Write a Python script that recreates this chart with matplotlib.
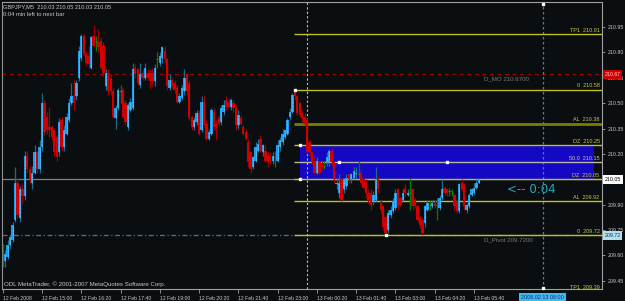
import matplotlib
matplotlib.use('Agg')
import matplotlib.pyplot as plt
from matplotlib.patches import Rectangle
from matplotlib.transforms import blended_transform_factory

# ---------------- data ----------------
header_text = "GBPJPY,M5  210.03 210.05 210.03 210.05"
timer_text = "0:04 min left to next bar"
copyright_text = "ODL MetaTrader, \u00a9 2001-2007 MetaQuotes Software Corp."

opens = [209.60, 209.57, 209.59, 209.66, 209.69, 209.81, 210.03, 209.82, 209.99, 209.95,
         210.19, 210.11, 210.03, 210.09, 210.21, 210.11, 210.24, 210.50, 210.42, 210.36,
         210.36, 210.34, 210.30, 210.21, 210.40, 210.24, 210.32, 210.40, 210.50, 210.55,
         210.54, 210.65, 210.77, 210.90, 210.79, 210.78, 210.71, 210.90, 210.87, 210.86,
         210.87, 210.84, 210.60, 210.68, 210.65, 210.57, 210.41, 210.47, 210.57, 210.58,
         210.50, 210.36, 210.46, 210.47, 210.71, 210.70, 210.61, 210.68, 210.65, 210.68,
         210.68, 210.68, 210.63, 210.76, 210.74, 210.77, 210.81, 210.76, 210.59, 210.64,
         210.62, 210.59, 210.51, 210.53, 210.57, 210.67, 210.62, 210.42, 210.36, 210.39,
         210.44, 210.34, 210.51, 210.38, 210.29, 210.32, 210.45, 210.38, 210.41, 210.39,
         210.45, 210.52, 210.51, 210.48, 210.50, 210.47, 210.37, 210.41, 210.36, 210.33,
         210.27, 210.21, 210.12, 210.16, 210.22, 210.29, 210.21, 210.22, 210.19, 210.18,
         210.16, 210.18, 210.16, 210.24, 210.27, 210.30, 210.32, 210.42, 210.45, 210.57,
         210.54, 210.50, 210.44, 210.42, 210.40, 210.27, 210.21, 210.16, 210.09, 210.15,
         210.13, 210.13, 210.15, 210.15, 210.22, 210.15, 210.02, 209.97, 210.05, 209.99,
         210.01, 210.08, 210.05, 210.06, 210.08, 210.08, 210.09, 210.05, 210.03, 209.97,
         209.97, 209.92, 209.93, 210.05, 209.91, 209.89, 209.83, 209.75, 209.84, 209.86,
         209.88, 209.99, 209.94, 209.93, 210.00, 209.96, 209.97, 209.99, 209.93, 209.89,
         209.83, 209.81, 209.79, 209.87, 209.90, 209.89, 209.91, 209.90, 209.88, 209.94,
         210.00, 209.99, 209.98, 209.97, 209.96, 209.92, 209.86, 210.03, 210.02, 209.87,
         209.89, 209.96, 209.97, 210.00, 210.03]
closes = [209.60, 209.61, 209.66, 209.71, 209.78, 210.03, 209.84, 209.99, 209.95, 210.19,
          210.11, 210.05, 210.09, 210.21, 210.11, 210.24, 210.50, 210.33, 210.34, 210.34,
          210.30, 210.21, 210.18, 210.39, 210.24, 210.34, 210.42, 210.50, 210.54, 210.50,
          210.62, 210.81, 210.90, 210.79, 210.74, 210.73, 210.89, 210.84, 210.87, 210.83,
          210.71, 210.68, 210.68, 210.57, 210.57, 210.42, 210.47, 210.58, 210.57, 210.42,
          210.39, 210.49, 210.51, 210.70, 210.67, 210.62, 210.67, 210.65, 210.71, 210.65,
          210.63, 210.63, 210.71, 210.76, 210.78, 210.83, 210.76, 210.60, 210.64, 210.60,
          210.58, 210.51, 210.54, 210.59, 210.65, 210.57, 210.41, 210.36, 210.40, 210.44,
          210.32, 210.51, 210.37, 210.29, 210.33, 210.46, 210.36, 210.36, 210.38, 210.47,
          210.49, 210.48, 210.48, 210.52, 210.47, 210.37, 210.43, 210.38, 210.32, 210.29,
          210.15, 210.11, 210.18, 210.24, 210.26, 210.22, 210.25, 210.16, 210.15, 210.16,
          210.19, 210.18, 210.25, 210.28, 210.32, 210.34, 210.40, 210.45, 210.55, 210.54,
          210.44, 210.43, 210.41, 210.38, 210.21, 210.21, 210.15, 210.09, 210.16, 210.09,
          210.12, 210.13, 210.18, 210.22, 210.15, 210.05, 210.03, 210.03, 209.93, 210.05,
          210.06, 210.05, 210.08, 210.10, 210.09, 210.08, 210.03, 210.00, 209.97, 209.93,
          209.90, 209.96, 210.05, 209.99, 209.87, 209.77, 209.73, 209.85, 209.87, 209.92,
          209.97, 209.89, 209.90, 209.97, 209.97, 209.97, 209.97, 209.89, 209.89, 209.81,
          209.78, 209.73, 209.89, 209.91, 209.90, 209.91, 209.89, 209.90, 209.94, 209.99,
          209.97, 209.97, 209.98, 209.97, 209.89, 209.86, 210.02, 209.99, 209.89, 209.90,
          209.96, 209.99, 210.00, 210.03, 210.05]
highs = [209.67, 209.63, 209.69, 209.72, 209.80, 210.12, 210.06, 210.01, 210.02, 210.22,
         210.22, 210.13, 210.13, 210.25, 210.22, 210.28, 210.56, 210.52, 210.45, 210.48,
         210.37, 210.35, 210.31, 210.41, 210.42, 210.37, 210.44, 210.53, 210.62, 210.64,
         210.64, 210.84, 210.91, 210.91, 210.81, 210.84, 210.90, 210.96, 210.90, 210.94,
         210.89, 210.86, 210.70, 210.70, 210.67, 210.59, 210.49, 210.59, 210.61, 210.59,
         210.52, 210.50, 210.53, 210.74, 210.73, 210.71, 210.74, 210.70, 210.74, 210.70,
         210.70, 210.71, 210.73, 210.80, 210.80, 210.84, 210.84, 210.77, 210.67, 210.65,
         210.64, 210.61, 210.56, 210.61, 210.70, 210.68, 210.64, 210.43, 210.42, 210.46,
         210.46, 210.54, 210.55, 210.40, 210.35, 210.47, 210.47, 210.40, 210.43, 210.49,
         210.52, 210.54, 210.53, 210.53, 210.52, 210.49, 210.46, 210.43, 210.37, 210.35,
         210.29, 210.22, 210.19, 210.27, 210.29, 210.31, 210.26, 210.25, 210.21, 210.21,
         210.21, 210.22, 210.28, 210.30, 210.35, 210.35, 210.41, 210.47, 210.56, 210.58,
         210.55, 210.51, 210.46, 210.44, 210.41, 210.28, 210.22, 210.18, 210.18, 210.16,
         210.16, 210.16, 210.21, 210.23, 210.23, 210.16, 210.06, 210.08, 210.06, 210.06,
         210.08, 210.09, 210.09, 210.12, 210.12, 210.16, 210.11, 210.06, 210.05, 209.99,
         209.99, 209.98, 210.12, 210.07, 209.93, 209.90, 209.84, 209.87, 209.89, 209.94,
         209.99, 210.00, 209.95, 209.99, 210.02, 209.99, 210.06, 210.00, 209.94, 209.90,
         209.84, 209.82, 209.90, 209.93, 209.93, 209.93, 209.93, 209.94, 209.96, 210.05,
         210.01, 210.00, 210.00, 209.99, 209.97, 209.93, 210.03, 210.05, 210.03, 209.91,
         209.97, 210.00, 210.03, 210.05, 210.05]
lows = [209.53, 209.53, 209.58, 209.64, 209.68, 209.80, 209.82, 209.80, 209.91, 209.93,
        210.09, 210.02, 209.99, 210.08, 210.09, 210.09, 210.22, 210.31, 210.32, 210.30,
        210.28, 210.19, 210.16, 210.19, 210.22, 210.22, 210.31, 210.39, 210.49, 210.46,
        210.52, 210.63, 210.75, 210.78, 210.72, 210.71, 210.70, 210.83, 210.81, 210.80,
        210.70, 210.66, 210.58, 210.55, 210.55, 210.41, 210.35, 210.46, 210.50, 210.41,
        210.37, 210.34, 210.45, 210.46, 210.65, 210.61, 210.59, 210.64, 210.64, 210.64,
        210.59, 210.60, 210.60, 210.71, 210.72, 210.74, 210.74, 210.58, 210.58, 210.59,
        210.56, 210.50, 210.50, 210.52, 210.55, 210.55, 210.40, 210.34, 210.34, 210.37,
        210.31, 210.33, 210.36, 210.28, 210.28, 210.31, 210.34, 210.28, 210.37, 210.37,
        210.43, 210.46, 210.47, 210.46, 210.45, 210.34, 210.35, 210.37, 210.31, 210.28,
        210.12, 210.09, 210.11, 210.15, 210.21, 210.21, 210.19, 210.15, 210.12, 210.14,
        210.14, 210.12, 210.15, 210.22, 210.25, 210.29, 210.31, 210.40, 210.44, 210.52,
        210.43, 210.42, 210.39, 210.37, 210.20, 210.18, 210.14, 210.08, 210.08, 210.08,
        210.11, 210.11, 210.13, 210.13, 210.13, 210.03, 209.99, 209.94, 209.92, 209.97,
        209.99, 210.03, 210.03, 210.05, 210.06, 210.06, 210.02, 209.99, 209.94, 209.91,
        209.87, 209.90, 209.92, 209.97, 209.85, 209.75, 209.72, 209.73, 209.82, 209.85,
        209.87, 209.87, 209.89, 209.92, 209.95, 209.95, 209.87, 209.87, 209.88, 209.80,
        209.76, 209.72, 209.77, 209.86, 209.87, 209.88, 209.88, 209.81, 209.87, 209.93,
        209.96, 209.95, 209.95, 209.95, 209.87, 209.85, 209.85, 209.98, 209.87, 209.85,
        209.88, 209.95, 209.96, 209.99, 210.03]

time_labels = ["12 Feb 2008", "12 Feb 15:00", "12 Feb 16:20", "12 Feb 17:40", "12 Feb 19:00",
               "12 Feb 20:20", "12 Feb 21:40", "12 Feb 23:00", "13 Feb 00:20", "13 Feb 01:40",
               "13 Feb 03:00", "13 Feb 04:20", "13 Feb 05:40"]
time_label_bars = [0, 16, 32, 48, 64, 80, 96, 112, 128, 144, 160, 176, 192]
day_separator_bar = 124
cursor_bar = 220
cursor_label = "2008.02.13 08:00"

price_ticks = [210.95, 210.80, 210.65, 210.50, 210.35, 210.20, 210.05, 209.90, 209.75, 209.60, 209.45]

fib_names = ["TP1", "0", "AL", "DZ", "50.0", "DZ", "AL", "0", "TP1"]
fib_values = [210.91, 210.58, 210.38, 210.25, 210.15, 210.05, 209.92, 209.72, 209.39]
fib_start_bar = 118.5

zone_top = 210.25
zone_bottom = 210.05
zone_start_bar = 121
zone_end_bar = 241

d_mo_value = 210.67
d_pivot_value = 209.72
bid_value = 210.05
swing_high_bar, swing_high = 119, 210.58
swing_low_bar, swing_low = 156, 209.72
mid_marker_bars = [137, 181]
timer_short = "<-- 0:04"

# ---------------- style ----------------
BG = '#0b0e10'
FG = '#c8c8c8'
plt.rcParams['font.family'] = ['Liberation Sans', 'DejaVu Sans']

W, H = 625, 301
fig = plt.figure(figsize=(W / 100, H / 100), dpi=100, facecolor=BG)
L, R, T, B = 2, 602, 2, 289
ax = fig.add_axes([L / W, 1 - B / H, (R - L) / W, (B - T) / H], facecolor=BG)

ymin, ymax = 209.402, 211.098
xmin = -0.3
xmax = xmin + (R - L) / 2.4545
ax.set_xlim(xmin, xmax)
ax.set_ylim(ymin, ymax)

# background level lines
ax.axhline(d_mo_value, color='#a00000', lw=0.9, ls=(0, (3, 3)), zorder=1)
ax.axhline(d_pivot_value, color='#5a7080', lw=0.9, ls=(0, (4, 2, 1, 2)), zorder=1)
ax.axhline(bid_value, color='#808080', lw=0.9, zorder=1)

# zone rectangle
ax.add_patch(Rectangle((zone_start_bar, zone_bottom), zone_end_bar - zone_start_bar,
                       zone_top - zone_bottom, facecolor='#1408c4', edgecolor='none', zorder=2))

# fib lines
for name, v in zip(fib_names, fib_values):
    if name == "AL" and v > 210.2:
        col, lw = '#7c7c00', 2.0
    elif name == "50.0":
        col, lw = '#b8b8a0', 1.0
    else:
        col, lw = '#c0c020', 1.0
    ax.plot([fib_start_bar, xmax], [v, v], color=col, lw=lw, zorder=3, solid_capstyle='butt')
    ax.text(xmax - 1.0, v + 0.007, f"{name}  {v:.2f}", color='#c8c840' if name != "50.0" else '#c8c8b0',
            fontsize=4.0, ha='right', va='bottom', zorder=6, clip_on=False)

# vertical lines
ax.axvline(day_separator_bar, color='#c0c0c0', lw=0.8, ls=(0, (2, 2)), zorder=2)
ax.axvline(cursor_bar, color='#2090d0', lw=0.9, ls=(0, (2, 2)), zorder=2)

# candles
n = len(opens)
for i in range(n):
    o, h, l, c = opens[i], highs[i], lows[i], closes[i]
    if c > o:
        body, wick = '#1c9ef0', '#1a6a90'
    elif c < o:
        body, wick = '#d00000', '#a00000'
    else:
        body, wick = '#00a000', '#008000'
    ax.vlines(i, l, h, color=wick, lw=0.9, zorder=4)
    if c != o:
        ax.bar(i, abs(c - o), bottom=min(o, c), width=0.95, color=body, lw=0, zorder=5)
        if c > o:
            ax.vlines(i, min(o, c), max(o, c), color='#8fdcff', lw=0.5, ls=(0, (1, 1)), zorder=5.5)
    else:
        ax.hlines(c, i - 0.45, i + 0.45, color=body, lw=0.9, zorder=5)

# white anchor markers
mk = dict(marker='s', ms=1.7, color='white', ls='none', zorder=7, clip_on=False)
ax.plot([swing_high_bar, swing_low_bar], [swing_high, swing_low], **mk)
ax.plot([zone_start_bar, zone_start_bar], [zone_top, zone_bottom], **mk)
ax.plot(mid_marker_bars, [fib_values[4]] * len(mid_marker_bars), **mk)
ax.plot([cursor_bar, cursor_bar], [ymax - 0.010, ymin + 0.005], **mk)

# texts in plot
ax.text(swing_high_bar + 77, d_mo_value - 0.014, f"D_MO {d_mo_value:.4f}", color='#7a7a7a',
        fontsize=4.4, ha='left', va='top', zorder=6)
ax.text(swing_high_bar + 77, d_pivot_value - 0.014, f"D_Pivot {d_pivot_value:.4f}", color='#7a7a7a',
        fontsize=4.4, ha='left', va='top', zorder=6)
ax.text(205.4, 209.99, timer_short, color='#2aa6b8', fontsize=8.5, ha='left', va='center', zorder=6,
        family=['DejaVu Sans'])

fig.text(3 / W, 1 - 7 / H, header_text, color=FG, fontsize=4.1, ha='left', va='center')
fig.text(3 / W, 1 - 14 / H, timer_text, color=FG, fontsize=4.2, ha='left', va='center')
fig.text(4 / W, 1 - 284 / H, copyright_text, color=FG, fontsize=4.4, ha='left', va='center')

# axes styling
for s in ['top', 'left', 'right', 'bottom']:
    ax.spines[s].set_color('#a0a0a0')
    ax.spines[s].set_linewidth(0.8)
ax.spines['left'].set_color('#909090')

ax.yaxis.tick_right()
ax.set_yticks(price_ticks)
ax.set_yticklabels([f"{p:.2f}" for p in price_ticks])
ax.tick_params(axis='y', direction='out', length=2.5, width=0.6, color='#a0a0a0',
               labelcolor=FG, labelsize=3.8, pad=1.5)
for tick_val, lbl in zip(price_ticks, ax.get_yticklabels()):
    if abs(tick_val - bid_value) < 1e-6:
        lbl.set_visible(False)   # covered by the bid price box
ax.set_xticks(time_label_bars)
ax.set_xticklabels(time_labels)
ax.tick_params(axis='x', direction='out', length=3, width=0.6, color='#a0a0a0',
               labelcolor=FG, labelsize=3.7, pad=1.8)
for lbl in ax.get_xticklabels():
    lbl.set_ha('left')

# price label boxes on right axis
tr = blended_transform_factory(ax.transAxes, ax.transData)
ax.text(1.004, d_mo_value, f"{d_mo_value:.2f}", transform=tr, fontsize=3.8, color='#ffd0d0',
        ha='left', va='center', clip_on=False, zorder=8,
        bbox=dict(boxstyle='square,pad=0.35', fc='#d00000', ec='none'))
ax.text(1.004, bid_value, f"{bid_value:.2f}", transform=tr, fontsize=3.8, color='black',
        ha='left', va='center', clip_on=False, zorder=8,
        bbox=dict(boxstyle='square,pad=0.35', fc='white', ec='none'))
ax.text(1.004, d_pivot_value, f"{d_pivot_value:.2f}", transform=tr, fontsize=3.8, color='#203040',
        ha='left', va='center', clip_on=False, zorder=8,
        bbox=dict(boxstyle='square,pad=0.35', fc='#b0e0f0', ec='none'))

# cursor time label on x axis
trx = blended_transform_factory(ax.transData, ax.transAxes)
ax.text(cursor_bar, -0.028, cursor_label, transform=trx, fontsize=3.9, color='#1a3070',
        ha='center', va='center', clip_on=False, zorder=8,
        bbox=dict(boxstyle='square,pad=0.35', fc='#40b8f0', ec='none'))

fig.savefig('out.png', dpi=100, facecolor=BG)
